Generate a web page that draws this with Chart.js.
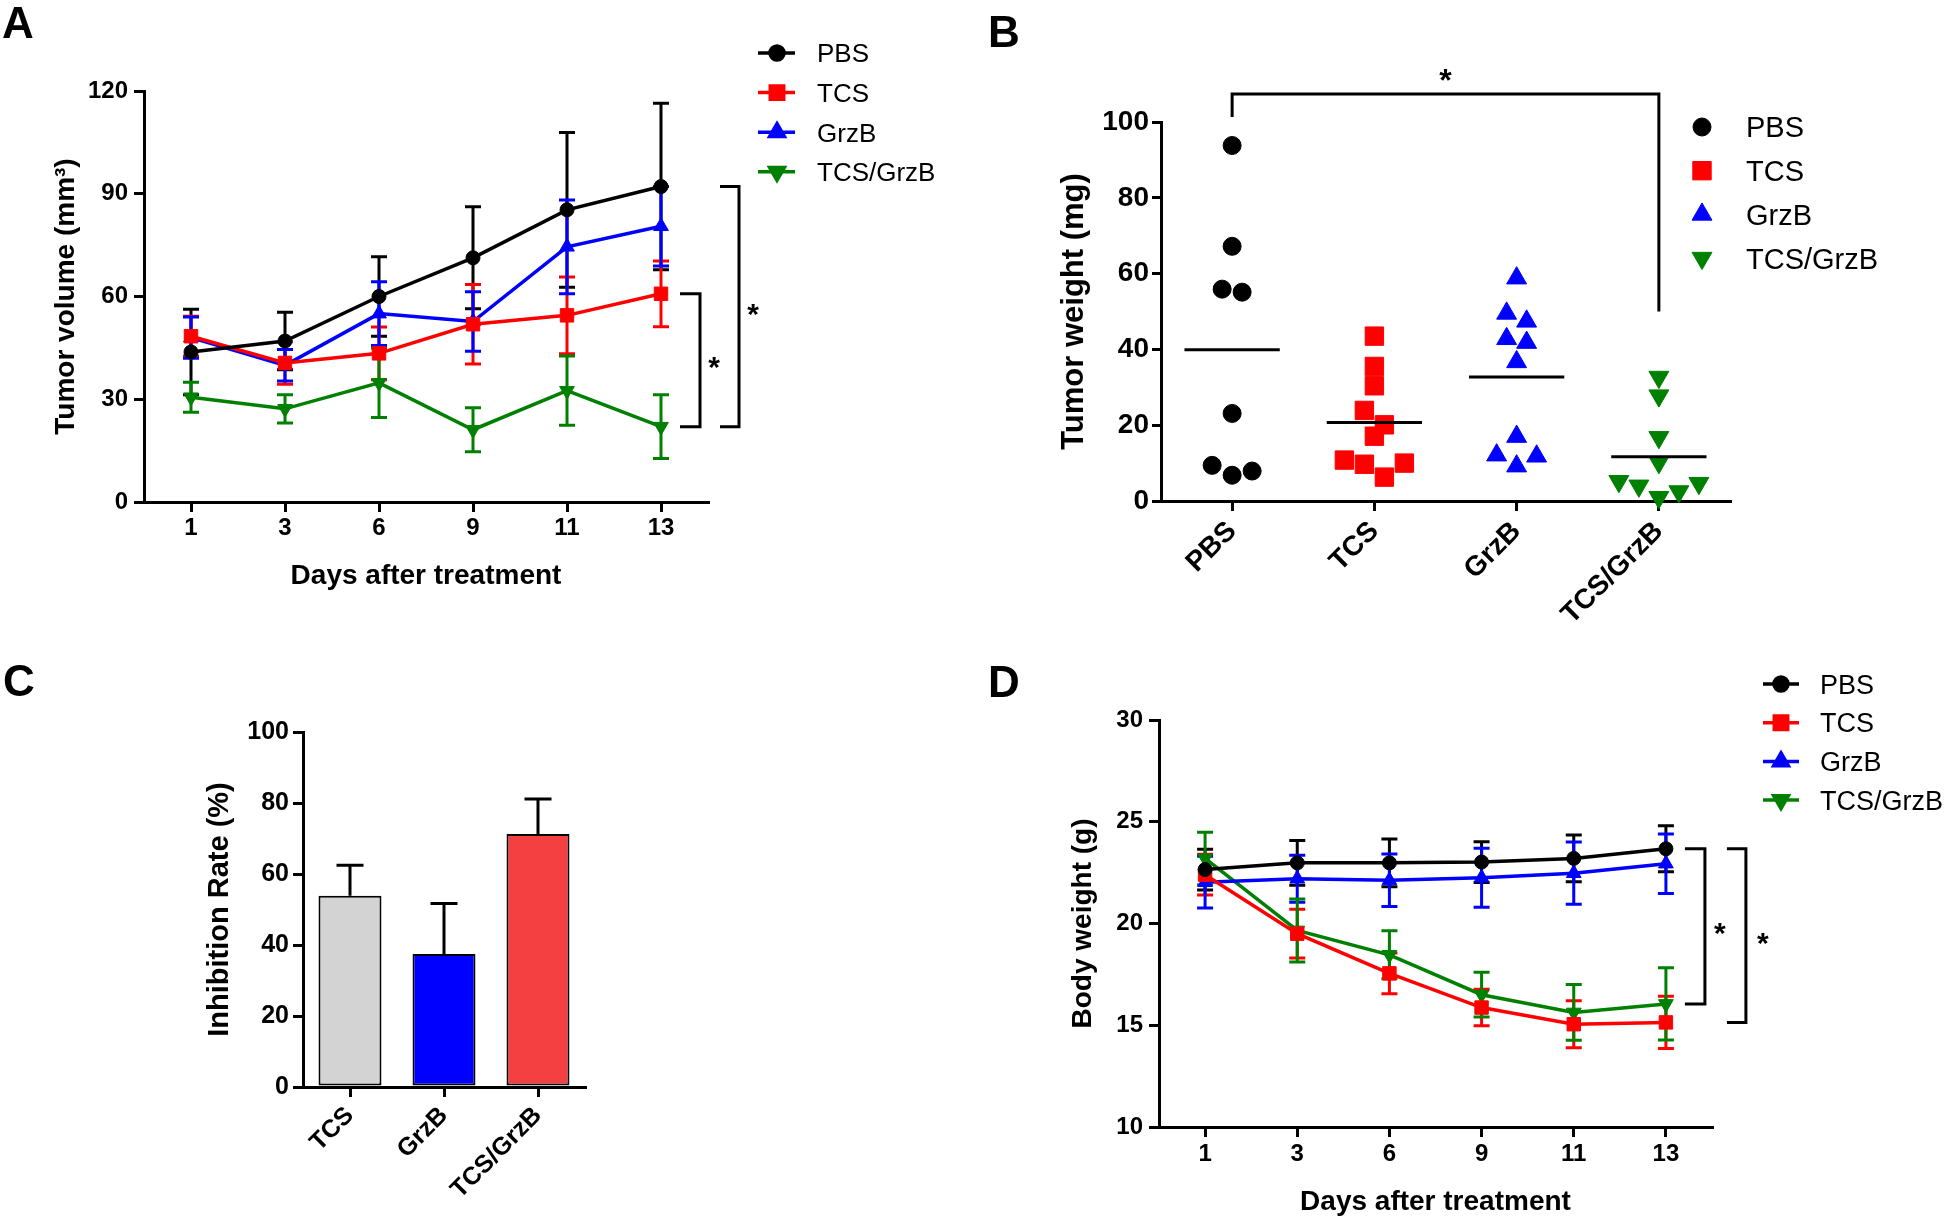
<!DOCTYPE html>
<html>
<head>
<meta charset="utf-8">
<title>Tumor growth figure</title>
<script src="https://cdn.jsdelivr.net/npm/chart.js@4.4.1/dist/chart.umd.min.js"></script>
<style>
  html, body { margin: 0; padding: 0; background: #ffffff; }
  body { position: relative; width: 1946px; height: 1219px; overflow: hidden; }
  canvas { position: absolute; display: block; }
</style>
</head>
<body>
<script>
// ================= DATA =================
const days = ['1', '3', '6', '9', '11', '13'];
const groups = ['PBS', 'TCS', 'GrzB', 'TCS/GrzB'];
const inhibitionGroups = ['TCS', 'GrzB', 'TCS/GrzB'];

// Panel A: tumor volume (mm3), mean and error
const volumePBS      = [43.8, 47.0, 60.0, 71.3, 85.3, 92.1];
const volumePBSErr   = [12.5, 8.4, 11.6, 14.9, 22.6, 24.3];
const volumeTCS      = [48.4, 40.6, 43.4, 51.9, 54.5, 60.8];
const volumeTCSErr   = [5.8, 6.2, 7.7, 11.6, 11.2, 9.6];
const volumeGrzB     = [48.0, 39.9, 55.0, 52.7, 74.5, 80.5];
const volumeGrzBErr  = [6.0, 4.6, 9.3, 8.7, 13.7, 11.6];
const volumeCombo    = [30.6, 27.2, 34.8, 21.1, 32.5, 22.0];
const volumeComboErr = [4.4, 4.1, 10.1, 6.4, 10.1, 9.3];
const volumeTicks    = [0, 30, 60, 90, 120];

// Panel B: tumor weight (mg), individual animals
const weightPBS   = [93.8, 67.2, 55.9, 55.1, 23.1, 9.4, 7.9, 6.8];
const weightTCS   = [43.5, 35.5, 30.4, 23.9, 20.1, 17.1, 10.8, 10.0, 9.7, 6.3];
const weightGrzB  = [58.8, 49.5, 47.4, 42.8, 41.8, 36.7, 17.0, 12.1, 11.8, 9.2];
const weightCombo = [32.7, 27.8, 16.8, 10.2, 5.2, 4.7, 4.0, 2.5, 1.0];
const weightTicks = [0, 20, 40, 60, 80, 100];

// Panel C: inhibition rate (%)
const inhibitionMean  = [53.9, 37.5, 71.3];
const inhibitionErr   = [8.6, 14.2, 9.8];
const inhibitionTicks = [0, 20, 40, 60, 80, 100];

// Panel D: body weight (g)
const bodyPBS      = [22.65, 22.98, 22.98, 23.02, 23.2, 23.67];
const bodyPBSErr   = [1.0, 1.1, 1.17, 1.0, 1.15, 1.13];
const bodyTCS      = [22.4, 19.5, 17.55, 15.87, 15.05, 15.14];
const bodyTCSErr   = [1.0, 1.2, 1.0, 0.9, 1.15, 1.28];
const bodyGrzB     = [22.03, 22.2, 22.12, 22.25, 22.47, 22.94];
const bodyGrzBErr  = [1.27, 1.15, 1.29, 1.45, 1.53, 1.46];
const bodyCombo    = [23.2, 19.66, 18.46, 16.5, 15.63, 16.05];
const bodyComboErr = [1.29, 1.55, 1.18, 1.1, 1.37, 1.77];
const bodyTicks    = [10, 15, 20, 25, 30];

// ================= STYLE =================
const FONT = '"Liberation Sans", Arial, Helvetica, sans-serif';
Chart.defaults.font.family = FONT;
const seriesColors   = ['#000000', '#ff0000', '#0000ff', '#008000'];
const seriesMarkers  = ['circle', 'rect', 'triangle', 'triangle'];
const seriesRotation = [0, 0, 0, 180];
const lineMarkerRadius = [7, 9.5, 8.5, 8.5];
const dotMarkerRadius  = [9, 13, 11.5, 11.5];
const barColors = ['#d3d3d3', '#0000ff', '#f44040'];

// ================= HELPERS =================
function makeCanvas(box) {
  const c = document.createElement('canvas');
  const w = box.right - box.left, h = box.bottom - box.top;
  c.width = w; c.height = h;
  c.style.left = box.left + 'px'; c.style.top = box.top + 'px';
  c.style.width = w + 'px'; c.style.height = h + 'px';
  document.body.appendChild(c);
  return c;
}

function axis(o) {
  const a = {
    type: o.type,
    offset: !!o.offset,
    border: { display: true, color: '#000', width: 3 },
    grid: { display: true, drawOnChartArea: false, drawTicks: true, tickLength: o.tickLength,
            lineWidth: 3, color: '#000', offset: false },
    ticks: { color: '#000', autoSkip: false, padding: o.pad,
             minRotation: o.rot || 0, maxRotation: o.rot || 0,
             font: { family: FONT, size: o.size, weight: 'bold', lineHeight: 1.2 } },
    title: o.title ? { display: true, text: o.title, color: '#000', padding: o.titlePad,
             font: { family: FONT, size: o.titleSize, weight: 'bold', lineHeight: 1.2 } }
           : { display: false },
    afterFit: o.fit
  };
  if (o.tickValues) {
    a.min = o.tickValues[0];
    a.max = o.tickValues[o.tickValues.length - 1];
    a.afterBuildTicks = s => { s.ticks = o.tickValues.map(v => ({ value: v })); };
  }
  return a;
}

function drawMarker(ctx, style, radius, rotation, x, y) {
  if (Chart.helpers && Chart.helpers.drawPoint) {
    Chart.helpers.drawPoint(ctx, { pointStyle: style, radius: radius, rotation: rotation, borderWidth: 1 }, x, y);
  }
}

function errorBarPlugin(id, cfg) {
  return {
    id: id,
    beforeDatasetsDraw(chart) {
      const ctx = chart.ctx, ys = chart.scales.y;
      chart.data.datasets.forEach((ds, di) => {
        if (!ds.errors) return;
        const meta = chart.getDatasetMeta(di);
        ctx.save();
        ctx.lineWidth = cfg.width;
        meta.data.forEach((el, i) => {
          const v = typeof ds.data[i] === 'object' ? ds.data[i].y : ds.data[i];
          const e = ds.errors[i];
          const col = Array.isArray(ds.errorColor) ? ds.errorColor[i] : (ds.errorColor || ds.borderColor);
          ctx.strokeStyle = col;
          const x = el.x;
          const yT = ys.getPixelForValue(v + e);
          const yB = cfg.upOnly ? ys.getPixelForValue(v) : ys.getPixelForValue(v - e);
          ctx.beginPath();
          ctx.moveTo(x, yT); ctx.lineTo(x, yB);
          ctx.moveTo(x - cfg.cap / 2, yT); ctx.lineTo(x + cfg.cap / 2, yT);
          if (!cfg.upOnly) { ctx.moveTo(x - cfg.cap / 2, yB); ctx.lineTo(x + cfg.cap / 2, yB); }
          ctx.stroke();
        });
        ctx.restore();
      });
    }
  };
}

function legendPlugin(id, cfg) {
  return {
    id: id,
    afterDraw(chart) {
      const ctx = chart.ctx;
      chart.data.datasets.forEach((ds, i) => {
        const y = cfg.y0 + i * cfg.dy;
        ctx.save();
        if (cfg.line) {
          ctx.strokeStyle = ds.borderColor; ctx.lineWidth = cfg.lineWidth;
          ctx.beginPath(); ctx.moveTo(cfg.line[0], y); ctx.lineTo(cfg.line[1], y); ctx.stroke();
        }
        ctx.fillStyle = ds.pointBackgroundColor || ds.backgroundColor;
        ctx.strokeStyle = ds.pointBorderColor || ds.borderColor;
        drawMarker(ctx, ds.pointStyle, ds.pointRadius, ds.pointRotation || 0, cfg.marker, y);
        ctx.fillStyle = '#000';
        ctx.font = cfg.size + 'px ' + FONT;
        ctx.textAlign = 'left'; ctx.textBaseline = 'alphabetic';
        ctx.fillText(ds.label, cfg.text, y + cfg.size * 0.36);
        ctx.restore();
      });
    }
  };
}

function letterPlugin(id, letter, x, y) {
  return {
    id: id,
    afterDraw(chart) {
      const ctx = chart.ctx;
      ctx.save();
      ctx.font = 'bold 44px ' + FONT; ctx.fillStyle = '#000';
      ctx.textAlign = 'left'; ctx.textBaseline = 'alphabetic';
      ctx.fillText(letter, x, y);
      ctx.restore();
    }
  };
}

function star(ctx, x, yMid, size) {
  ctx.font = 'bold ' + size + 'px ' + FONT;
  ctx.textAlign = 'center'; ctx.textBaseline = 'alphabetic';
  ctx.fillText('*', x, yMid + 0.57 * size);
}

// brackets comparing series at the last time point
function bracketPlugin(id, specs) {
  return {
    id: id,
    afterDatasetsDraw(chart) {
      const ctx = chart.ctx, xs = chart.scales.x, ys = chart.scales.y;
      const last = chart.data.labels.length - 1;
      const xl = xs.getPixelForValue(last);
      ctx.save();
      ctx.strokeStyle = '#000'; ctx.fillStyle = '#000'; ctx.lineWidth = 3;
      specs.forEach(s => {
        const y1 = ys.getPixelForValue(chart.data.datasets[s.from].data[last]);
        const y2 = ys.getPixelForValue(chart.data.datasets[s.to].data[last]);
        ctx.beginPath();
        ctx.moveTo(xl + s.x0, y1); ctx.lineTo(xl + s.x1, y1);
        ctx.lineTo(xl + s.x1, y2); ctx.lineTo(xl + s.x0, y2);
        ctx.stroke();
        star(ctx, xl + s.star, (y1 + y2) / 2, 30);
      });
      ctx.restore();
    }
  };
}

function lineDatasets(valueSets, errorSets) {
  return valueSets.map((vals, i) => ({
    label: groups[i],
    data: vals,
    errors: errorSets[i],
    borderColor: seriesColors[i],
    backgroundColor: seriesColors[i],
    borderWidth: 3.5,
    tension: 0,
    pointStyle: seriesMarkers[i],
    pointRotation: seriesRotation[i],
    pointRadius: lineMarkerRadius[i],
    pointBorderWidth: 1,
    clip: false
  }));
}

const common = {
  responsive: false,
  animation: false,
  events: [],
  plugins: { legend: { display: false }, tooltip: { enabled: false } }
};

// ================= PANEL A =================
(function () {
  const box = { left: 0, top: 0, right: 973, bottom: 610 };
  const area = { left: 144, top: 91, right: 708, bottom: 502 };
  const cv = makeCanvas(box);
  new Chart(cv, {
    type: 'line',
    data: {
      labels: days,
      datasets: lineDatasets([volumePBS, volumeTCS, volumeGrzB, volumeCombo],
                             [volumePBSErr, volumeTCSErr, volumeGrzBErr, volumeComboErr])
    },
    options: Object.assign({}, common, {
      layout: { padding: { left: 0, bottom: 0, top: area.top - box.top, right: box.right - area.right } },
      scales: {
        x: axis({ type: 'category', offset: true, tickLength: 10, pad: 2, size: 24,
                  title: 'Days after treatment', titleSize: 28, titlePad: { top: 0, bottom: 17 },
                  fit: s => { s.height = box.bottom - area.bottom; } }),
        y: axis({ type: 'linear', tickLength: 10, pad: 6, size: 24, tickValues: volumeTicks,
                  title: 'Tumor volume (mm³)', titleSize: 28, titlePad: { top: 49, bottom: 0 },
                  fit: s => { s.width = area.left - box.left; } })
      }
    }),
    plugins: [
      errorBarPlugin('errA', { width: 3, cap: 16 }),
      bracketPlugin('brA', [{ from: 1, to: 3, x0: 19, x1: 39, star: 53 },
                            { from: 0, to: 3, x0: 59, x1: 78, star: 92 }]),
      legendPlugin('legA', { line: [758, 795], lineWidth: 3.5, marker: 777, text: 817, y0: 53, dy: 39.6, size: 26 }),
      letterPlugin('letA', 'A', 2, 38)
    ]
  });
})();

// ================= PANEL B =================
(function () {
  const box = { left: 973, top: 0, right: 1946, bottom: 640 };
  const area = { left: 1161, top: 122, right: 1730, bottom: 501 };
  const cv = makeCanvas(box);
  const sets = [weightPBS, weightTCS, weightGrzB, weightCombo];

  const swarm = {
    id: 'swarmB',
    afterDatasetsUpdate(chart) {
      const spacing = 20, thresh = 18;
      chart.data.datasets.forEach((ds, di) => {
        const meta = chart.getDatasetMeta(di);
        const pts = meta.data.map(el => el).sort((a, b) => a.y - b.y);
        const rows = [];
        let cur = null;
        pts.forEach(p => {
          if (cur && p.y - cur[0].y < thresh) cur.push(p);
          else { cur = [p]; rows.push(cur); }
        });
        rows.forEach(r => {
          const n = r.length;
          const slots = [];
          for (let k = 0; k < n; k++) slots.push(k - (n - 1) / 2);
          // outermost first, alternating left / right, moving inward
          const order = [];
          let lo = 0, hi = n - 1, left = true;
          while (lo <= hi) { if (left) order.push(slots[lo++]); else order.push(slots[hi--]); left = !left; }
          r.forEach((p, k) => { p.x += order[k] * spacing; });
        });
      });
    }
  };

  const means = {
    id: 'meansB',
    afterDatasetsDraw(chart) {
      const ctx = chart.ctx, xs = chart.scales.x, ys = chart.scales.y;
      const half = (xs.getPixelForValue(1) - xs.getPixelForValue(0)) * 0.335;
      ctx.save(); ctx.strokeStyle = '#000'; ctx.lineWidth = 3;
      chart.data.datasets.forEach((ds, di) => {
        const vals = ds.data.map(p => p.y);
        const m = vals.reduce((a, b) => a + b, 0) / vals.length;
        const xc = xs.getPixelForValue(di), y = ys.getPixelForValue(m);
        ctx.beginPath(); ctx.moveTo(xc - half, y); ctx.lineTo(xc + half, y); ctx.stroke();
      });
      ctx.restore();
    }
  };

  const bracket = {
    id: 'brB',
    afterDatasetsDraw(chart) {
      const ctx = chart.ctx, xs = chart.scales.x, ys = chart.scales.y, top = chart.chartArea.top;
      const x1 = xs.getPixelForValue(0), x2 = xs.getPixelForValue(3);
      const yb = top - 28;
      ctx.save(); ctx.strokeStyle = '#000'; ctx.fillStyle = '#000'; ctx.lineWidth = 3;
      ctx.beginPath();
      ctx.moveTo(x1, top - 5); ctx.lineTo(x1, yb); ctx.lineTo(x2, yb); ctx.lineTo(x2, ys.getPixelForValue(50));
      ctx.stroke();
      star(ctx, (x1 + x2) / 2, yb - 21, 32);
      ctx.restore();
    }
  };

  new Chart(cv, {
    type: 'scatter',
    data: {
      labels: groups,
      datasets: sets.map((vals, i) => ({
        label: groups[i],
        data: vals.map(v => ({ x: groups[i], y: v })),
        borderColor: seriesColors[i],
        backgroundColor: seriesColors[i],
        pointStyle: seriesMarkers[i],
        pointRotation: seriesRotation[i],
        pointRadius: dotMarkerRadius[i],
        pointBorderWidth: 1,
        clip: false
      }))
    },
    options: Object.assign({}, common, {
      layout: { padding: { left: 0, bottom: 0, top: area.top - box.top, right: box.right - area.right } },
      scales: {
        x: axis({ type: 'category', offset: true, tickLength: 10, pad: 4, size: 28, rot: 45,
                  fit: s => { s.height = box.bottom - area.bottom; } }),
        y: axis({ type: 'linear', tickLength: 9, pad: 3, size: 28, tickValues: weightTicks,
                  title: 'Tumor weight (mg)', titleSize: 31, titlePad: { top: 83, bottom: 0 },
                  fit: s => { s.width = area.left - box.left; } })
      }
    }),
    plugins: [
      swarm, means, bracket,
      legendPlugin('legB', { line: null, marker: 729, text: 773, y0: 127, dy: 43.7, size: 29 }),
      letterPlugin('letB', 'B', 15, 47)
    ]
  });
})();

// ================= PANEL C =================
(function () {
  const box = { left: 0, top: 610, right: 973, bottom: 1219 };
  const area = { left: 303, top: 732, right: 585, bottom: 1087 };
  const cv = makeCanvas(box);
  new Chart(cv, {
    type: 'bar',
    data: {
      labels: inhibitionGroups,
      datasets: [{
        label: 'Inhibition Rate (%)',
        data: inhibitionMean,
        errors: inhibitionErr,
        errorColor: '#000',
        backgroundColor: barColors,
        borderColor: '#000',
        borderWidth: 2,
        borderSkipped: false,
        barPercentage: 0.67,
        categoryPercentage: 1.0
      }]
    },
    options: Object.assign({}, common, {
      layout: { padding: { left: 0, bottom: 0, top: area.top - box.top, right: box.right - area.right } },
      scales: {
        x: axis({ type: 'category', offset: true, tickLength: 10, pad: 4, size: 25, rot: 45,
                  fit: s => { s.height = box.bottom - area.bottom; } }),
        y: axis({ type: 'linear', tickLength: 10, pad: 4, size: 25, tickValues: inhibitionTicks,
                  title: 'Inhibition Rate (%)', titleSize: 29, titlePad: { top: 203, bottom: 0 },
                  fit: s => { s.width = area.left - box.left; } })
      }
    }),
    plugins: [
      errorBarPlugin('errC', { width: 3, cap: 27, upOnly: true }),
      letterPlugin('letC', 'C', 3, 86)
    ]
  });
})();

// ================= PANEL D =================
(function () {
  const box = { left: 973, top: 640, right: 1946, bottom: 1219 };
  const area = { left: 1159, top: 720, right: 1712, bottom: 1127 };
  const cv = makeCanvas(box);
  new Chart(cv, {
    type: 'line',
    data: {
      labels: days,
      datasets: lineDatasets([bodyPBS, bodyTCS, bodyGrzB, bodyCombo],
                             [bodyPBSErr, bodyTCSErr, bodyGrzBErr, bodyComboErr])
    },
    options: Object.assign({}, common, {
      layout: { padding: { left: 0, bottom: 0, top: area.top - box.top, right: box.right - area.right } },
      scales: {
        x: axis({ type: 'category', offset: true, tickLength: 10, pad: 3, size: 24,
                  title: 'Days after treatment', titleSize: 28, titlePad: { top: 0, bottom: 0 },
                  fit: s => { s.height = box.bottom - area.bottom; } }),
        y: axis({ type: 'linear', tickLength: 10, pad: 6, size: 24, tickValues: bodyTicks,
                  title: 'Body weight (g)', titleSize: 28, titlePad: { top: 93, bottom: 0 },
                  fit: s => { s.width = area.left - box.left; } })
      }
    }),
    plugins: [
      errorBarPlugin('errD', { width: 3, cap: 16 }),
      bracketPlugin('brD', [{ from: 0, to: 3, x0: 19, x1: 39, star: 54 },
                            { from: 0, to: 1, x0: 61, x1: 80, star: 97 }]),
      legendPlugin('legD', { line: [790, 826], lineWidth: 3.5, marker: 808, text: 847, y0: 44, dy: 38.7, size: 27 }),
      letterPlugin('letD', 'D', 15, 57)
    ]
  });
})();
</script>
</body>
</html>
